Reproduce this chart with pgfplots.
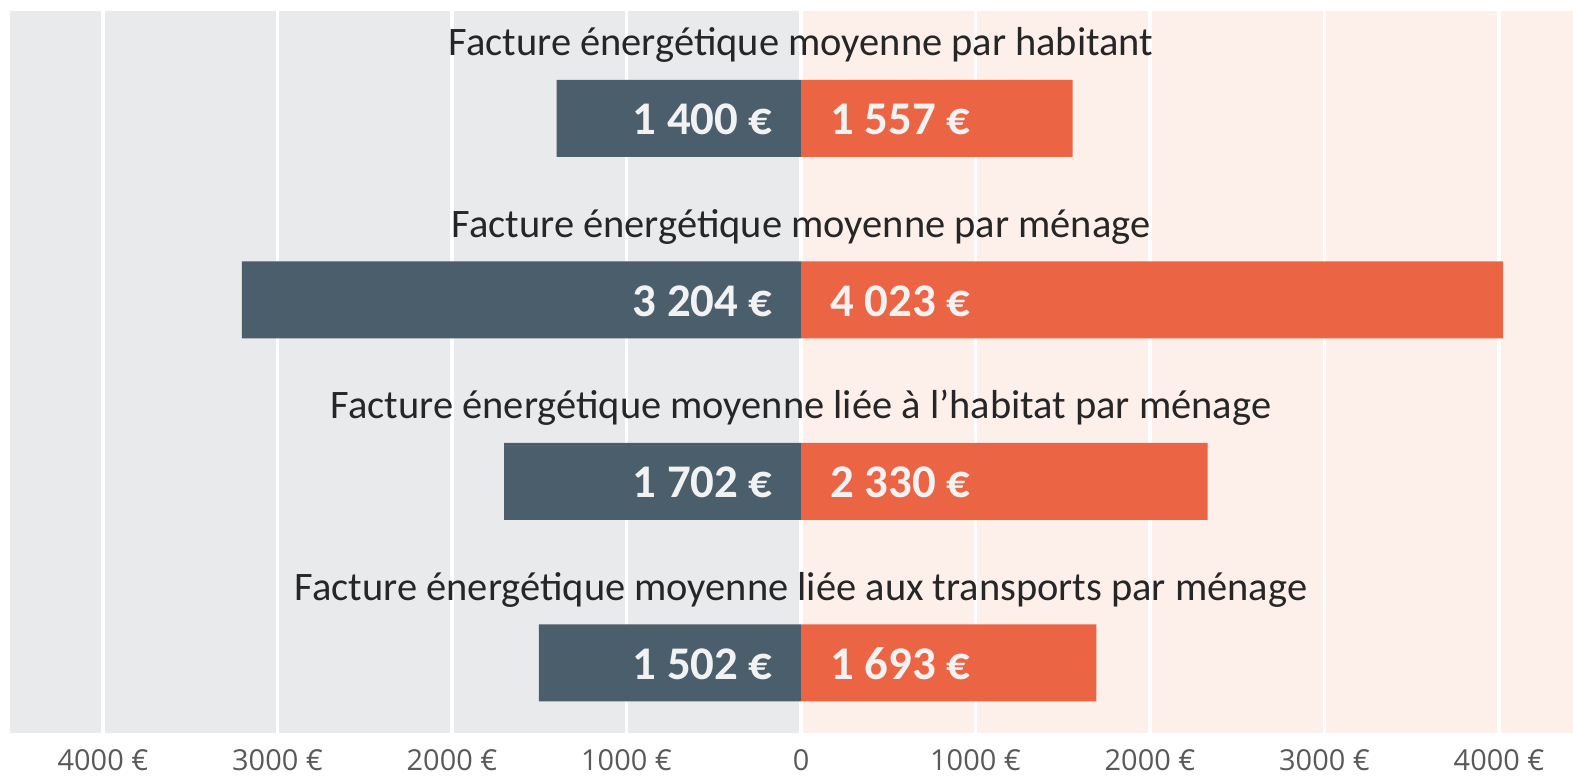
\documentclass[border=0pt]{standalone}
\usepackage{pgfplots}
\pgfplotsset{compat=1.18}
\usepackage{pgfplotstable}
\usepackage{fontspec}
\setmainfont{Carlito}
\newfontfamily\tickfont{Open Sans}
\definecolor{darkbar}{HTML}{4A5E6B}
\definecolor{orangebar}{HTML}{EB6444}
\definecolor{bgleft}{HTML}{E9EAEC}
\definecolor{bgright}{HTML}{FDEFEA}
\definecolor{titlecol}{HTML}{262626}
\definecolor{tickcol}{HTML}{595959}
\definecolor{labcol}{HTML}{F2F2F2}
\pgfplotstableread{
y neg pos
4 -1400 1557
3 -3204 4023
2 -1702 2330
1 -1502 1693
}\data
\begin{document}
\begin{tikzpicture}
\begin{axis}[
  set layers,
  scale only axis,
  width=781.5bp, height=361bp,
  xmin=-4533, xmax=4424, ymin=0.614, ymax=4.592,
  axis line style={draw=none},
  major tick length=0pt,
  ytick=\empty,
  xtick={-4000,-3000,-2000,-1000,0,1000,2000,3000,4000},
  xticklabels={4000 €,3000 €,2000 €,1000 €,0,1000 €,2000 €,3000 €,4000 €},
  xticklabel style={font=\tickfont\fontsize{14.5}{16}\selectfont, text=tickcol, anchor=base, yshift=-18.5bp, inner sep=0pt},
  xmajorgrids,
  major grid style={white, line width=1.75bp},
  clip=false,
]
\addplot[on layer=axis background, fill=bgleft, draw=none] coordinates {(-4533,0.614) (-4533,4.592) (0,4.592) (0,0.614)} -- cycle;
\addplot[on layer=axis background, fill=bgright, draw=none] coordinates {(0,0.614) (0,4.592) (4424,4.592) (4424,0.614)} -- cycle;
\addplot[xbar, bar width=38.5bp, bar shift=0pt, fill=darkbar, draw=none] table[x=neg, y=y] {\data};
\addplot[xbar, bar width=38.5bp, bar shift=0pt, fill=orangebar, draw=none] table[x=pos, y=y] {\data};
\tikzset{tit/.style={anchor=base, text=titlecol, inner sep=0pt, font=\fontsize{20.3}{24}\selectfont},
  labl/.style={anchor=base east, text=labcol, inner sep=0pt, xshift=-14bp, yshift=-8.25bp, font=\fontsize{23.5}{27}\selectfont\bfseries},
  labr/.style={anchor=base west, text=labcol, inner sep=0pt, xshift=14.5bp, yshift=-8.25bp, font=\fontsize{23.5}{27}\selectfont\bfseries}}
\node[tit] at (axis cs:0,4.345) {Facture énergétique moyenne par habitant};
\node[tit] at (axis cs:0,3.345) {Facture énergétique moyenne par ménage};
\node[tit] at (axis cs:0,2.345) {Facture énergétique moyenne liée à l’habitat par ménage};
\node[tit] at (axis cs:0,1.345) {Facture énergétique moyenne liée aux transports par ménage};
\node[labl] at (axis cs:0,4) {1 400 €};
\node[labr] at (axis cs:0,4) {1 557 €};
\node[labl] at (axis cs:0,3) {3 204 €};
\node[labr] at (axis cs:0,3) {4 023 €};
\node[labl] at (axis cs:0,2) {1 702 €};
\node[labr] at (axis cs:0,2) {2 330 €};
\node[labl] at (axis cs:0,1) {1 502 €};
\node[labr] at (axis cs:0,1) {1 693 €};
\end{axis}
\pgfresetboundingbox
\path[use as bounding box] ([shift={(-5bp,-22.5bp)}]current axis.south west) rectangle ([shift={(0bp,5.5bp)}]current axis.north east);
\end{tikzpicture}
\end{document}
